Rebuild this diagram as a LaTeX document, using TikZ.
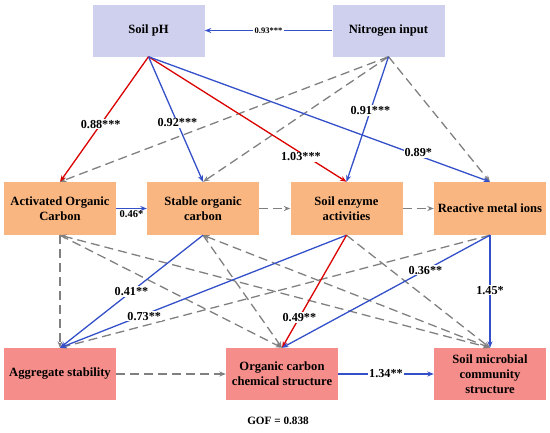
\documentclass[tikz,border=0pt]{standalone}
\usepackage{fontspec}
\setmainfont{Liberation Serif}
\usetikzlibrary{arrows.meta}
\definecolor{topc}{RGB}{206,208,237}
\definecolor{midc}{RGB}{250,182,128}
\definecolor{botc}{RGB}{245,141,138}
\definecolor{bl}{RGB}{52,80,200}
\definecolor{rd}{RGB}{218,0,0}
\definecolor{gr}{RGB}{128,128,128}
\begin{document}
\begin{tikzpicture}[x=1pt,y=-1pt,
  box/.style={rectangle, minimum width=112pt, minimum height=52pt, inner sep=1pt, align=center, font=\fontsize{12.6}{14.8}\selectfont\bfseries},
  topbox/.style={box, fill=topc},
  midbox/.style={box, fill=midc, minimum height=53pt},
  botbox/.style={box, fill=botc},
  tipA/.tip={Stealth[length=6.5pt,width=5pt]},
  blueline/.style={draw=bl, line width=1.3pt, -tipA},
  redline/.style={draw=rd, line width=1.3pt, -tipA},
  grayline/.style={draw=gr, line width=1.3pt, dash pattern=on 9pt off 5pt, -tipA},
  lbl/.style={fill=white, inner sep=1pt, font=\fontsize{12.2}{14}\selectfont\bfseries},
  smalllbl/.style={fill=white, inner sep=1.5pt, font=\fontsize{8.5}{10}\selectfont\bfseries},
]
\useasboundingbox (0,0) rectangle (550,432);
% nodes
\node[topbox] (ph) at (148.5,30.5) {Soil pH};
\node[topbox] (ni) at (388.5,30.5) {Nitrogen input};
\node[midbox] (aoc) at (60,208.5) {Activated Organic\\Carbon};
\node[midbox] (soc) at (203,208.5) {Stable organic\\carbon};
\node[midbox] (enz) at (346.5,208.5) {Soil enzyme\\activities};
\node[midbox] (rmi) at (490,208.5) {Reactive metal ions};
\node[botbox] (agg) at (60,374) {Aggregate stability};
\node[botbox] (occ) at (282,374) {Organic carbon\\chemical structure};
\node[botbox] (smc) at (490,374) {Soil microbial\\community\\structure};
\node[font=\fontsize{11.2}{13}\selectfont\bfseries] (gof) at (278,421) {GOF = 0.838};
% dashed non-significant paths
\draw[grayline] (ni.south) -- (aoc.north);
\draw[grayline] (ni.south) -- (soc.north);
\draw[grayline] (ni.south) -- (rmi.north);
\draw[grayline] (soc.east) -- (enz.west);
\draw[grayline] (enz.east) -- (rmi.west);
\draw[grayline] (aoc.south) -- (agg.north);
\draw[grayline] (aoc.south) -- (occ.north);
\draw[grayline, tipA-tipA] (aoc.south) -- (smc.north);
\draw[grayline] (soc.south) -- (occ.north);
\draw[grayline, tipA-tipA] (soc.south) -- (smc.north);
\draw[grayline] (enz.south) -- (smc.north);
\draw[grayline] (rmi.south) -- (agg.north);
\draw[grayline] (agg.east) -- (occ.west);
% significant paths
\draw[blueline] (ni.west) -- (ph.east);
\draw[redline] (ph.south) -- (aoc.north);
\draw[blueline] (ph.south) -- (soc.north);
\draw[redline] (ph.south) -- (enz.north);
\draw[blueline] (ph.south) -- (rmi.north);
\draw[blueline] (ni.south) -- (enz.north);
\draw[blueline] (aoc.east) -- (soc.west);
\draw[blueline] (soc.south) -- (agg.north);
\draw[blueline] (enz.south) -- (agg.north);
\draw[redline] (enz.south) -- (occ.north);
\draw[blueline] (rmi.south) -- (occ.north);
\draw[blueline] (rmi.south) -- (smc.north);
\draw[blueline] (occ.east) -- (smc.west);
% labels
\path (ni.west) -- (ph.east) node[smalllbl, midway] (l1) {0.93***};
\path (ph.south) -- (aoc.north) node[lbl, pos=0.54] (l2) {0.88***};
\path (ph.south) -- (soc.north) node[lbl, pos=0.53] (l3) {0.92***};
\path (ph.south) -- (enz.north) node[lbl, pos=0.8, xshift=-6pt] (l4) {1.03***};
\path (ph.south) -- (rmi.north) node[lbl, pos=0.79, yshift=3pt] (l5) {0.89*};
\path (ni.south) -- (enz.north) node[lbl, pos=0.43] (l6) {0.91***};
\path (aoc.east) -- (soc.west) node[midway, below=1pt, inner sep=1pt, font=\fontsize{10.5}{12}\selectfont\bfseries] (l7) {0.46*};
\path (soc.south) -- (agg.north) node[lbl, pos=0.5] (l8) {0.41**};
\path (enz.south) -- (agg.north) node[lbl, pos=0.72, xshift=4pt] (l9) {0.73**};
\path (enz.south) -- (occ.north) node[lbl, pos=0.73] (l10) {0.49**};
\path (rmi.south) -- (occ.north) node[lbl, pos=0.31] (l11) {0.36**};
\path (rmi.south) -- (smc.north) node[lbl, pos=0.49] (l12) {1.45*};
\path (occ.east) -- (smc.west) node[lbl, midway] (l13) {1.34**};
\end{tikzpicture}
\end{document}
